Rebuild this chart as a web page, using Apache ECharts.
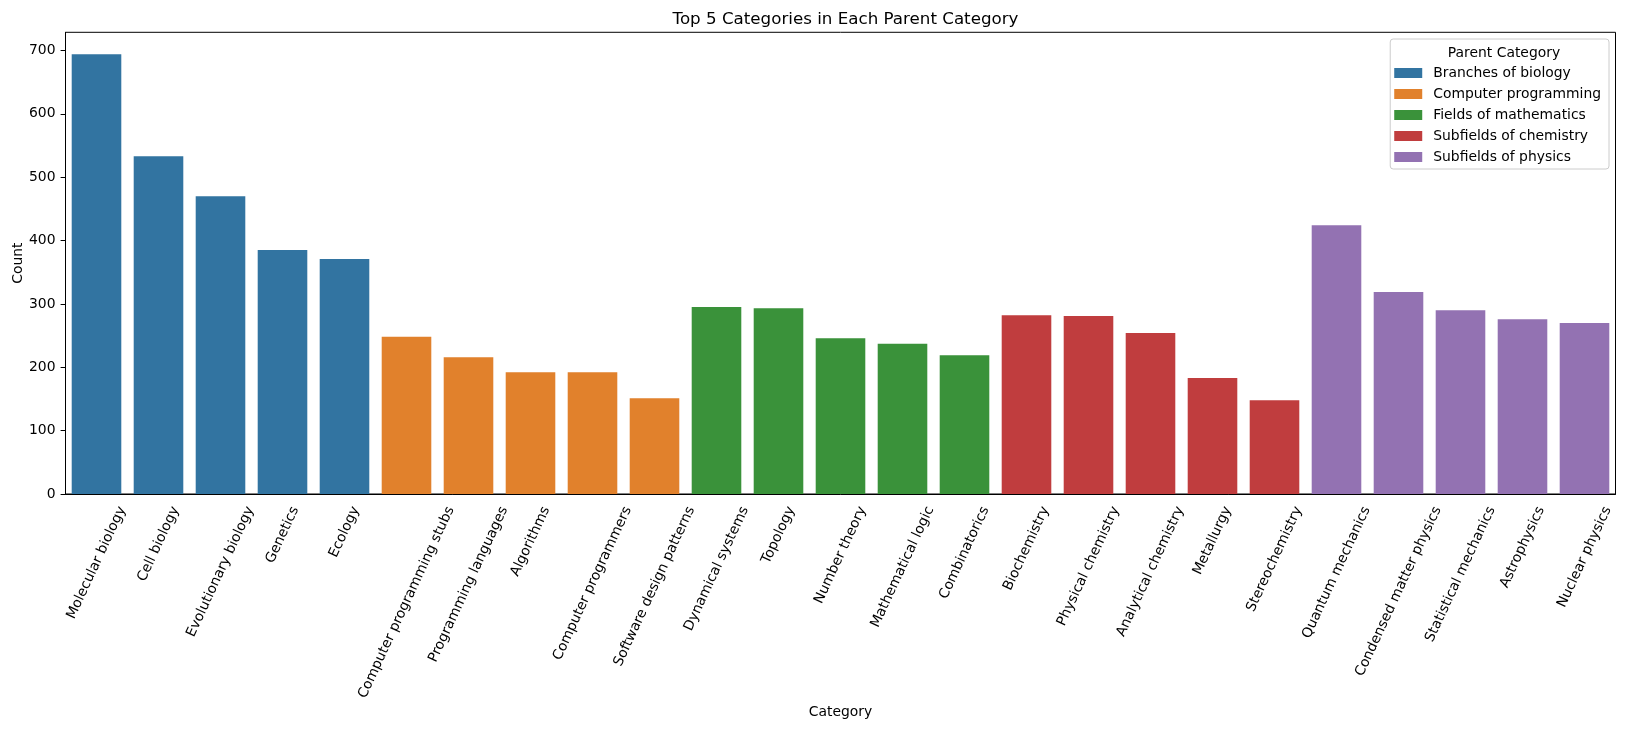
<!DOCTYPE html>
<html><head><meta charset="utf-8">
<script src="https://cdn.jsdelivr.net/npm/echarts@6/dist/echarts.min.js"></script>
<style>html,body{margin:0;padding:0;background:#fff}#c{width:1625px;height:729px}</style>
</head><body><div id="c"></div>
<script>
const categories = ['Molecular biology','Cell biology','Evolutionary biology','Genetics','Ecology',
  'Computer programming stubs','Programming languages','Algorithms','Computer programmers','Software design patterns',
  'Dynamical systems','Topology','Number theory','Mathematical logic','Combinatorics',
  'Biochemistry','Physical chemistry','Analytical chemistry','Metallurgy','Stereochemistry',
  'Quantum mechanics','Condensed matter physics','Statistical mechanics','Astrophysics','Nuclear physics'];
const counts = [694,533,470,385,371, 248,216,192,192,151, 295,293,246,237,219, 282,281,254,183,148, 424,319,290,276,270];
const parentOf = ['Branches of biology','Branches of biology','Branches of biology','Branches of biology','Branches of biology',
  'Computer programming','Computer programming','Computer programming','Computer programming','Computer programming',
  'Fields of mathematics','Fields of mathematics','Fields of mathematics','Fields of mathematics','Fields of mathematics',
  'Subfields of chemistry','Subfields of chemistry','Subfields of chemistry','Subfields of chemistry','Subfields of chemistry',
  'Subfields of physics','Subfields of physics','Subfields of physics','Subfields of physics','Subfields of physics'];
const parentNames = ['Branches of biology','Computer programming','Fields of mathematics','Subfields of chemistry','Subfields of physics'];
const parentColors = ['#3274a1','#e1812c','#3a923a','#c03d3e','#9372b2'];
const yTicks = [0,100,200,300,400,500,600,700];
const yMax = 728.7;

const FONT = 'DejaVu Sans';
const FS = 13.9;
const chart = echarts.init(document.getElementById('c'), null, {renderer: 'canvas'});

const ctx = document.createElement('canvas').getContext('2d');
ctx.font = FS + 'px "' + FONT + '"';
const ang = 65 * Math.PI / 180;

const barSeries = parentNames.map((p, k) => ({
  name: p, type: 'bar', stack: 'all', barWidth: '80%',
  itemStyle: {color: parentColors[k]},
  emphasis: {disabled: true},
  data: counts.map((v, i) => parentOf[i] === p ? v : null)
}));

const labelSeries = {
  type: 'custom', silent: true, z: 5,
  data: categories.map((c, i) => [i, 0]),
  encode: {x: 0, y: 1},
  renderItem: function (params, api) {
    const i = api.value(0);
    const p = api.coord([i, 0]);
    const txt = categories[i];
    const L = ctx.measureText(txt).width;
    const h = 16;
    const cy = p[1] + 10 + (L / 2) * Math.sin(ang) + (h / 2) * Math.cos(ang);
    return {type: 'text', x: p[0], y: cy, rotation: ang,
      style: {text: txt, fontFamily: FONT, fontSize: FS, fill: '#000', align: 'center', verticalAlign: 'middle'}};
  }
};

chart.setOption({
  animation: false,
  backgroundColor: '#fff',
  textStyle: {fontFamily: FONT},
  title: [
    {text: 'Top 5 Categories in Each Parent Category', left: 840.5, top: 6, textAlign: 'center',
     textStyle: {fontFamily: FONT, fontSize: 16.7, fontWeight: 'normal', color: '#000'}},
    {text: 'Parent Category', left: 1499, top: 41, textAlign: 'center', z: 10,
     textStyle: {fontFamily: FONT, fontSize: FS, fontWeight: 'normal', color: '#000'}}
  ],
  legend: {
    data: parentNames, orient: 'vertical', right: 16, top: 39,
    padding: [27, 8, 5, 4], itemGap: 7, itemWidth: 28, itemHeight: 10, icon: 'rect',
    borderColor: '#cccccc', borderWidth: 1, borderRadius: 3, backgroundColor: 'rgba(255,255,255,0.8)',
    textStyle: {fontFamily: FONT, fontSize: FS, color: '#000', padding: [0, 0, 0, 6]},
    selectedMode: false
  },
  grid: {left: 65.5, right: 9.5, top: 32.3, bottom: 235, show: true, borderColor: '#000', borderWidth: 1,
    containLabel: false, outerBoundsMode: 'none'},
  xAxis: {
    type: 'category', data: categories, boundaryGap: true,
    name: 'Category', nameLocation: 'middle', nameGap: 211, nameMoveOverlap: false,
    nameTextStyle: {fontFamily: FONT, fontSize: FS, color: '#000'},
    axisLine: {lineStyle: {color: '#000', width: 1}},
    axisTick: {alignWithLabel: true, length: 4.9, lineStyle: {color: '#000'}},
    axisLabel: {show: false}
  },
  yAxis: {
    type: 'value', min: 0, max: yMax, interval: 100,
    name: 'Count', nameLocation: 'middle', nameGap: 40, nameMoveOverlap: false,
    nameTextStyle: {fontFamily: FONT, fontSize: FS, color: '#000'},
    splitLine: {show: false},
    axisLine: {show: true, lineStyle: {color: '#000', width: 1}},
    axisTick: {show: true, length: 4.9, lineStyle: {color: '#000'}, customValues: yTicks},
    axisLabel: {fontFamily: FONT, fontSize: FS, color: '#000', margin: 10, customValues: yTicks}
  },
  series: barSeries.concat([labelSeries])
});
</script></body></html>
